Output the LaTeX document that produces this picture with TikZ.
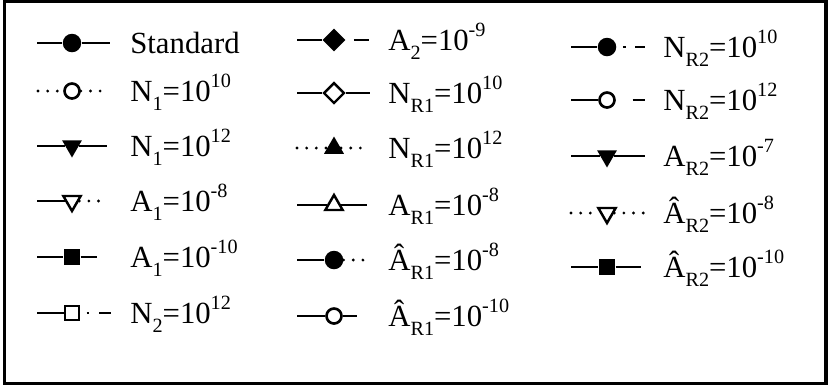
\documentclass[tikz,border=0pt]{standalone}
\usepackage{fontspec}
\setmainfont{Liberation Serif}
\usetikzlibrary{shapes.geometric}

\newcommand{\lo}[1]{\raisebox{-5.5pt}{\fontsize{11.5}{11.5}\selectfont #1}}
\newcommand{\hi}[1]{\raisebox{7.5pt}{\fontsize{11.5}{11.5}\selectfont #1}}

\begin{document}
\begin{tikzpicture}[x=0.02cm, y=-0.02cm,
    solidln/.style={line width=1.5pt},
    dotln/.style={line width=1.8pt, line cap=round, dash pattern=on 0pt off 5.5pt},
    dotdashln/.style={line width=1.5pt, dash pattern=on 0pt off 3.5pt on 1.6pt off 5.5pt on 7.5pt off 30pt},
    dashln/.style={line width=1.5pt, dash pattern=on 0pt off 4.5pt on 8.5pt off 30pt},
    gapdashln/.style={line width=1.5pt, dash pattern=on 0pt off 9.5pt on 7.5pt off 30pt},
    fcirc/.style={circle, fill, inner sep=0pt, minimum size=0.37cm},
    ocirc/.style={circle, draw, fill=white, line width=1.5pt, inner sep=0pt, minimum size=0.3cm},
    ftri/.style={regular polygon, regular polygon sides=3, fill, inner sep=0pt, minimum size=0.46cm},
    otri/.style={regular polygon, regular polygon sides=3, draw, fill=white, line width=1.4pt, inner sep=0pt, minimum size=0.4cm},
    fdtri/.style={ftri, shape border rotate=180},
    odtri/.style={otri, shape border rotate=180},
    fsq/.style={rectangle, fill, inner sep=0pt, minimum size=0.33cm},
    osq/.style={rectangle, draw, fill=white, line width=1.4pt, inner sep=0pt, minimum size=0.29cm},
    fdia/.style={diamond, fill, inner sep=0pt, minimum size=0.46cm},
    odia/.style={diamond, draw, fill=white, line width=1.4pt, inner sep=0pt, minimum size=0.42cm},
    entry/.style={anchor=base west, inner sep=0pt, font=\fontsize{17.5}{20}\selectfont}]

    \useasboundingbox (0,0) rectangle (828,387);

    % Frame
    \draw[line width=1.8pt] (4.5,1.5) rectangle (826,383.5);

    % Column 1
    \foreach \n/\y/\xa/\xb/\lft/\rgt/\mk/\txt in {
        11/43/37/110/solidln/solidln/fcirc/{Standard},
        12/91/38/108/dotln/dotln/ocirc/{N\lo{1}=10\hi{10}},
        13/146/37/107/solidln/solidln/fdtri/{N\lo{1}=10\hi{12}},
        14/201/37/108/solidln/dotln/odtri/{A\lo{1}=10\hi{-8}},
        15/257/37/97/solidln/solidln/fsq/{A\lo{1}=10\hi{-10}},
        16/313/37/111/solidln/dotdashln/osq/{N\lo{2}=10\hi{12}}}
    {
        \coordinate (s\n) at (\xa,\y);
        \coordinate (e\n) at (\xb,\y);
        \node[\mk] (m\n) at (72,\y) {};
        \draw[\lft] (s\n) -- (m\n);
        \draw[\rgt] (m\n) -- (e\n);
        \node[entry] (t\n) at (130,\y+10) {\txt};
    }

    % Column 2
    \foreach \n/\y/\xa/\xb/\lft/\rgt/\mk/\txt in {
        21/40/297/370/solidln/dashln/fdia/{A\lo{2}=10\hi{-9}},
        22/93/297/370/solidln/solidln/odia/{N\lo{R1}=10\hi{10}},
        23/148/297/370/dotln/dotln/ftri/{N\lo{R1}=10\hi{12}},
        24/205/297/367/solidln/solidln/otri/{A\lo{R1}=10\hi{-8}},
        25/260/297/372/solidln/dotln/fcirc/{Â\lo{R1}=10\hi{-8}},
        26/316/297/357/solidln/solidln/ocirc/{Â\lo{R1}=10\hi{-10}}}
    {
        \coordinate (s\n) at (\xa,\y);
        \coordinate (e\n) at (\xb,\y);
        \node[\mk] (m\n) at (334,\y) {};
        \draw[\lft] (s\n) -- (m\n);
        \draw[\rgt] (m\n) -- (e\n);
        \node[entry] (t\n) at (388,\y+10) {\txt};
    }

    % Column 3
    \foreach \n/\y/\xa/\xb/\lft/\rgt/\mk/\txt in {
        31/47/571/645/solidln/dotdashln/fcirc/{N\lo{R2}=10\hi{10}},
        32/100/571/645/solidln/gapdashln/ocirc/{N\lo{R2}=10\hi{12}},
        33/156/571/645/solidln/solidln/fdtri/{A\lo{R2}=10\hi{-7}},
        34/213/571/645/dotln/dotln/odtri/{Â\lo{R2}=10\hi{-8}},
        35/267/571/641/solidln/solidln/fsq/{Â\lo{R2}=10\hi{-10}}}
    {
        \coordinate (s\n) at (\xa,\y);
        \coordinate (e\n) at (\xb,\y);
        \node[\mk] (m\n) at (607,\y) {};
        \draw[\lft] (s\n) -- (m\n);
        \draw[\rgt] (m\n) -- (e\n);
        \node[entry] (t\n) at (663,\y+10) {\txt};
    }

\end{tikzpicture}
\end{document}
